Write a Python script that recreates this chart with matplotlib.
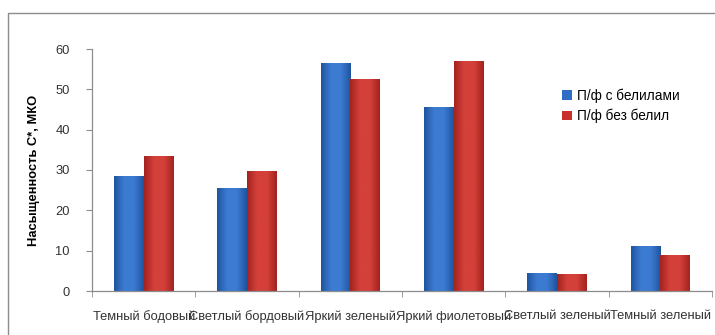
import numpy as np
import matplotlib.pyplot as plt
from matplotlib.patches import Rectangle
from matplotlib.colors import LinearSegmentedColormap

# colour names and saturation values for the two paint series
categories = ['Темный бодовый', 'Светлый бордовый', 'Яркий зеленый',
              'Яркий фиолетовый', 'Светлый зеленый', 'Темный зеленый']
with_white = [28.5, 25.5, 56.6, 45.7, 4.5, 11.2]
without_white = [33.5, 29.8, 52.6, 57.1, 4.2, 8.9]
series_names = ['П/ф с белилами', 'П/ф без белил']
yticks = [0, 10, 20, 30, 40, 50, 60]

plt.rcParams['font.family'] = ['Liberation Sans', 'DejaVu Sans']

fig = plt.figure(figsize=(7.15, 3.35), dpi=100)
# outer chart frame
fig.patches.append(Rectangle((8 / 715, -0.05), 1.0, 1 - 13 / 335 + 0.05,
                             transform=fig.transFigure, fill=False,
                             edgecolor='#8c8c8c', linewidth=1.0))

ax = fig.add_axes([92 / 715, 44 / 335, 620 / 715, 242 / 335])

x = np.arange(len(categories))
w = 0.286
blue = '#2f6cc3'
red = '#c9302c'
b1 = ax.bar(x - w / 2, with_white, w, color=blue, edgecolor='none',
            label=series_names[0])
b2 = ax.bar(x + w / 2, without_white, w, color=red, edgecolor='none',
            label=series_names[1])


def shade(bars, dark, light):
    # horizontal gradient: darker edges, lighter middle
    cmap = LinearSegmentedColormap.from_list('g', [dark, light, light, dark])
    grad = np.linspace(0, 1, 64).reshape(1, -1)
    for b in bars:
        x0, y0 = b.get_x(), b.get_y()
        im = ax.imshow(grad, cmap=cmap, aspect='auto',
                       extent=(x0, x0 + b.get_width(), y0, y0 + b.get_height()),
                       zorder=b.get_zorder(), interpolation='bilinear')
        im.set_clip_path(b)


shade(b1, '#1f559f', '#3c7bd2')
shade(b2, '#a3231f', '#d4403a')

ax.set_xlim(-0.5, len(categories) - 0.5)
ax.set_ylim(0, 60)
ax.set_yticks(yticks)
ax.set_xticks(x)
ax.set_xticklabels(categories, fontsize=9.3, color='#333333')
ax.set_xticks(np.arange(len(categories) + 1) - 0.5, minor=True)
ax.tick_params(axis='x', which='major', length=0, pad=14)
ax.tick_params(axis='x', which='minor', length=4, color='#8c8c8c')
ax.tick_params(axis='y', length=4, color='#8c8c8c', labelsize=9.3,
               labelcolor='#333333', pad=12)
for s in ['top', 'right']:
    ax.spines[s].set_visible(False)
for s in ['left', 'bottom']:
    ax.spines[s].set_color('#8c8c8c')
    ax.spines[s].set_linewidth(0.9)

ax.set_ylabel('Насыщенность С*, МКО', fontsize=9.3, fontweight='bold',
              labelpad=11)

ax.legend(loc='upper left', bbox_to_anchor=(550 / 715, 1 - 76 / 335),
          bbox_transform=fig.transFigure, frameon=False, fontsize=9.8,
          handlelength=0.7, handleheight=0.7, handletextpad=0.4,
          labelspacing=0.45)

fig.savefig('out.png', dpi=100)
